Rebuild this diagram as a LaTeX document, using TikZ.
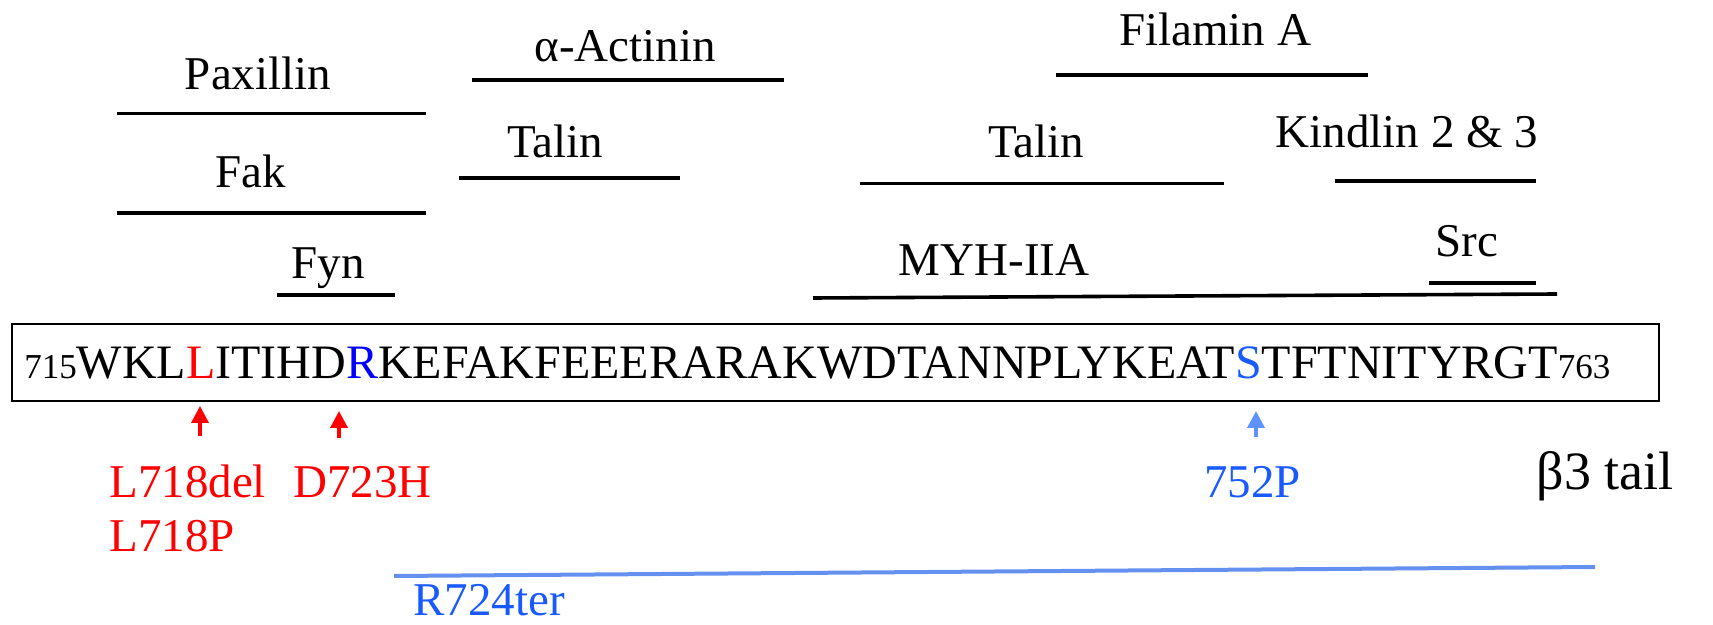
\documentclass[tikz,border=0pt]{standalone}
\usepackage{fontspec}
\setmainfont{Liberation Serif}
\usetikzlibrary{arrows.meta}
\definecolor{seqblue}{RGB}{0,0,255}
\definecolor{mutblue}{RGB}{25,90,255}
\definecolor{arrblue}{RGB}{95,145,255}
\definecolor{linblue}{RGB}{100,145,240}
\definecolor{mutred}{RGB}{255,0,0}
\begin{document}
\begin{tikzpicture}[x=0.5pt,y=-0.5pt,
  lab/.style={font=\fontsize{23.5}{28}\selectfont, anchor=base, inner sep=0pt},
  bar/.style={line width=1.8pt},
  mut/.style={font=\fontsize{23.5}{28}\selectfont, anchor=base west, inner sep=0pt},
  uparrow/.style={line width=1.8pt, -{Triangle[length=8.5pt,width=8.5pt]}}]
\useasboundingbox (0,0) rectangle (1713,625);
% binding partner labels and bars
\node[lab] (pax) at (258,90) {Paxillin};
\draw[bar] (117,113.6) -- (426,113.6);
\node[lab] (act) at (625,62) {α-Actinin};
\draw[bar] (472,80) -- (784,80);
\node[lab] (fil) at (1215,46) {Filamin A};
\draw[bar] (1056,75) -- (1368,75);
\node[lab] (fak) at (251,188) {Fak};
\draw[bar] (117,213) -- (426,213);
\node[lab] (tal1) at (555,158) {Talin};
\draw[bar] (459,178) -- (680,178);
\node[lab] (tal2) at (1036,158) {Talin};
\draw[bar] (860,183.5) -- (1224,183.5);
\node[lab] (kin) at (1407,147.5) {Kindlin 2 \& 3};
\draw[bar] (1335,181) -- (1536,181);
\node[lab] (fyn) at (328,279) {Fyn};
\draw[bar] (277,295) -- (395,295);
\node[lab] (myh) at (994,276) {MYH-IIA};
\draw[bar] (813,298) -- (1557,294);
\node[lab] (src) at (1467,257) {Src};
\draw[bar] (1429,283) -- (1536,283);
% sequence box
\node[draw, line width=1pt, anchor=north west, minimum width=823.5pt, minimum height=38.5pt, inner sep=0pt] (box) at (11,323) {};
\node[anchor=base west, inner sep=0pt] (seq) at (24,379)
  {\fontsize{17.5}{20}\selectfont 715\fontsize{24}{28}\selectfont WKL\textcolor{mutred}{L}ITIHD\textcolor{seqblue}{R}KEFAKFEEERARAKWDTANNPLYKEAT\textcolor{mutblue}{S}TFTNITYRGT\fontsize{17.5}{20}\selectfont 763};
% mutation arrows
\coordinate (aL) at (200,406);
\coordinate (aLt) at (200,436);
\coordinate (aD) at (339,411);
\coordinate (aDt) at (339,438);
\coordinate (aS) at (1256,411);
\coordinate (aSt) at (1256,437);
\draw[uparrow, mutred] (aLt) -- (aL);
\draw[uparrow, mutred] (aDt) -- (aD);
\draw[uparrow, arrblue] (aSt) -- (aS);
\node[mut, text=mutred] (l718del) at (109,497) {L718del};
\node[mut, text=mutred] (l718p) at (109,551) {L718P};
\node[mut, text=mutred] (d723h) at (293,497) {D723H};
\node[mut, text=mutblue] (p752) at (1204,497) {752P};
\node[lab, font=\fontsize{27}{32}\selectfont] (tail) at (1605,489) {β3 tail};
% truncation
\coordinate (r1) at (394,576);
\coordinate (r2) at (1595,567);
\draw[linblue, line width=2pt] (r1) -- (r2);
\node[mut, text=mutblue] (r724) at (413,615) {R724ter};
\end{tikzpicture}
\end{document}
